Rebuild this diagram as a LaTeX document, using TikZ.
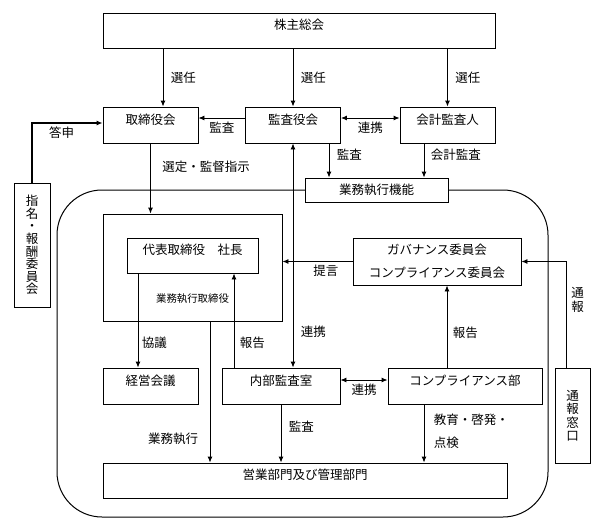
\documentclass[tikz,border=0pt]{standalone}
\usepackage{fontspec}
\setmainfont{Noto Sans CJK JP}
\usetikzlibrary{arrows.meta}
\usetikzlibrary{positioning}
\tikzset{box/.style={draw, line width=0.9pt, text centered, fill=white, inner sep=2pt}}
\tikzset{upper/.style={text height=10pt, text depth=11.5pt}}
\tikzset{connect/.style={draw, line width=0.9pt}}
\tikzset{tate/.style={align=center, font=\fontsize{12.5pt}{13.5pt}\selectfont}}

\begin{document}
\begin{tikzpicture}[x=1pt,y=-1pt,>={Latex[length=6pt,width=5pt]},font=\fontsize{12.5pt}{15pt}\selectfont]
\useasboundingbox (0,0) rectangle (602,530);

\node[draw,line width=1pt,rounded corners=45pt,minimum width=491pt,minimum height=327pt] (area) at (302.5,353.5) {};

\node[box,upper,text depth=13pt,minimum width=392pt,minimum height=35pt] (kabu) at (299,30.5) {株主総会};
\node[box,upper,minimum width=95pt,minimum height=36pt] (tori) at (150.5,125) {取締役会};
\node[box,upper,minimum width=95pt,minimum height=36pt] (kansa) at ([xshift=142.5pt]tori) {監査役会};
\node[box,upper,minimum width=95pt,minimum height=36pt] (kaikei) at ([xshift=154.5pt]kansa) {会計監査人};
\node[box,minimum width=143pt,minimum height=24pt] (kino) at (376.5,190) {業務執行機能};
\node[box,tate,font=\fontsize{12.5pt}{12.6pt}\selectfont,minimum width=36pt,minimum height=124pt] (shimei) at (32,245) {指\\名\\・\\報\\酬\\委\\員\\会};

\node[box,minimum width=179pt,minimum height=107pt] (gyomu) at (192.5,267.5) {};
\node[font=\fontsize{10.4pt}{12pt}\selectfont] (gyomutext) at ([yshift=23pt]gyomu.south) {業務執行取締役};
\node[box,upper,minimum width=131pt,minimum height=35pt] (daihyo) at ([yshift=12pt]gyomu) {代表取締役　社長};
\node[box,align=center,minimum width=168pt,minimum height=47pt] (gov) at (437,261.5) {ガバナンス委員会\\[8pt]コンプライアンス委員会};

\node[box,upper,minimum width=95pt,minimum height=36pt] (keiei) at (150.5,386) {経営会議};
\node[box,upper,minimum width=118pt,minimum height=36pt] (naibu) at (281,386) {内部監査室};
\node[box,upper,minimum width=154pt,minimum height=36pt] (comp) at (465,386) {コンプライアンス部};
\node[box,tate,minimum width=35pt,minimum height=95pt] (tsuho) at (572.5,415.5) {通\\報\\窓\\口};
\node[box,upper,minimum width=404pt,minimum height=35pt] (eigyo) at (305,480.5) {営業部門及び管理部門};

% top level
\path[connect,->] ([xshift=12.5pt]tori.north |- kabu.south) -- node[midway,right=4pt]{選任} ([xshift=12.5pt]tori.north);
\path[connect,->] (kabu.south -| kansa.north) -- node[midway,right=4pt]{選任} (kansa.north);
\path[connect,->] (kabu.south -| kaikei.north) -- node[midway,right=4pt]{選任} (kaikei.north);

\path[connect,->] ([yshift=7pt]kansa.west) -- node[midway,below]{監査} ([yshift=7pt]tori.east);
\path[connect,<->] ([yshift=7pt]kansa.east) -- node[midway,below]{連携} ([yshift=7pt]kaikei.west);
\path[connect,->,line width=1.6pt] (shimei.north) |- node[pos=0.71,below]{答申} ([yshift=2pt]tori.west);

\path[connect,->] (tori.south) -- node[pos=0.33,right=8pt]{選定・監督指示} (tori.south |- gyomu.north);
\path[connect,->] ([xshift=36pt]kansa.south) -- node[pos=0.32,right=4pt]{監査} ([xshift=36pt]kansa.south |- kino.north);
\path[connect,->] ([xshift=-23.5pt]kaikei.south) -- node[pos=0.32,right=3pt]{会計監査} ([xshift=-23.5pt]kaikei.south |- kino.north);
\path[connect,<->] (kansa.south) -- node[pos=0.84,right=4pt]{連携} (kansa.south |- naibu.north);

% execution
\path[connect,->] (gov.west) -- node[pos=0.38,below]{提言} (gov.west -| gyomu.east);
\path[connect,->] ([xshift=-6pt]tsuho.north) |- node[pos=0.32,right=1pt,tate]{通\\報} (gov.east);
\path[connect,->] ([xshift=10pt]gov.south |- comp.north) -- node[pos=0.42,right=2pt]{報告} ([xshift=10pt]gov.south);
\path[connect,->] ([xshift=-12.5pt]keiei.north |- daihyo.south) -- node[pos=0.74,right=0pt]{協議} ([xshift=-12.5pt]keiei.north);
\path[connect,->] ([xshift=17.5pt]gyomu.south) -- node[pos=0.83,left=8pt]{業務執行} ([xshift=17.5pt]gyomu.south |- eigyo.north);
\path[connect,->] ([xshift=-47pt]naibu.north) -- node[pos=0.26,right=2pt]{報告} ([xshift=-47pt]naibu.north |- daihyo.south);
\path[connect,<->] ([yshift=6pt]naibu.east) -- node[midway,below]{連携} ([yshift=6pt]comp.west);
\path[connect,->] (naibu.south) -- node[pos=0.39,right=4pt]{監査} (naibu.south |- eigyo.north);
\path[connect,->] ([xshift=-41pt]comp.south) -- node[pos=0.47,right=6pt,align=left,font=\fontsize{12.5pt}{23pt}\selectfont]{教育・啓発・\\点検} ([xshift=-41pt]comp.south |- eigyo.north);

\end{tikzpicture}
\end{document}
